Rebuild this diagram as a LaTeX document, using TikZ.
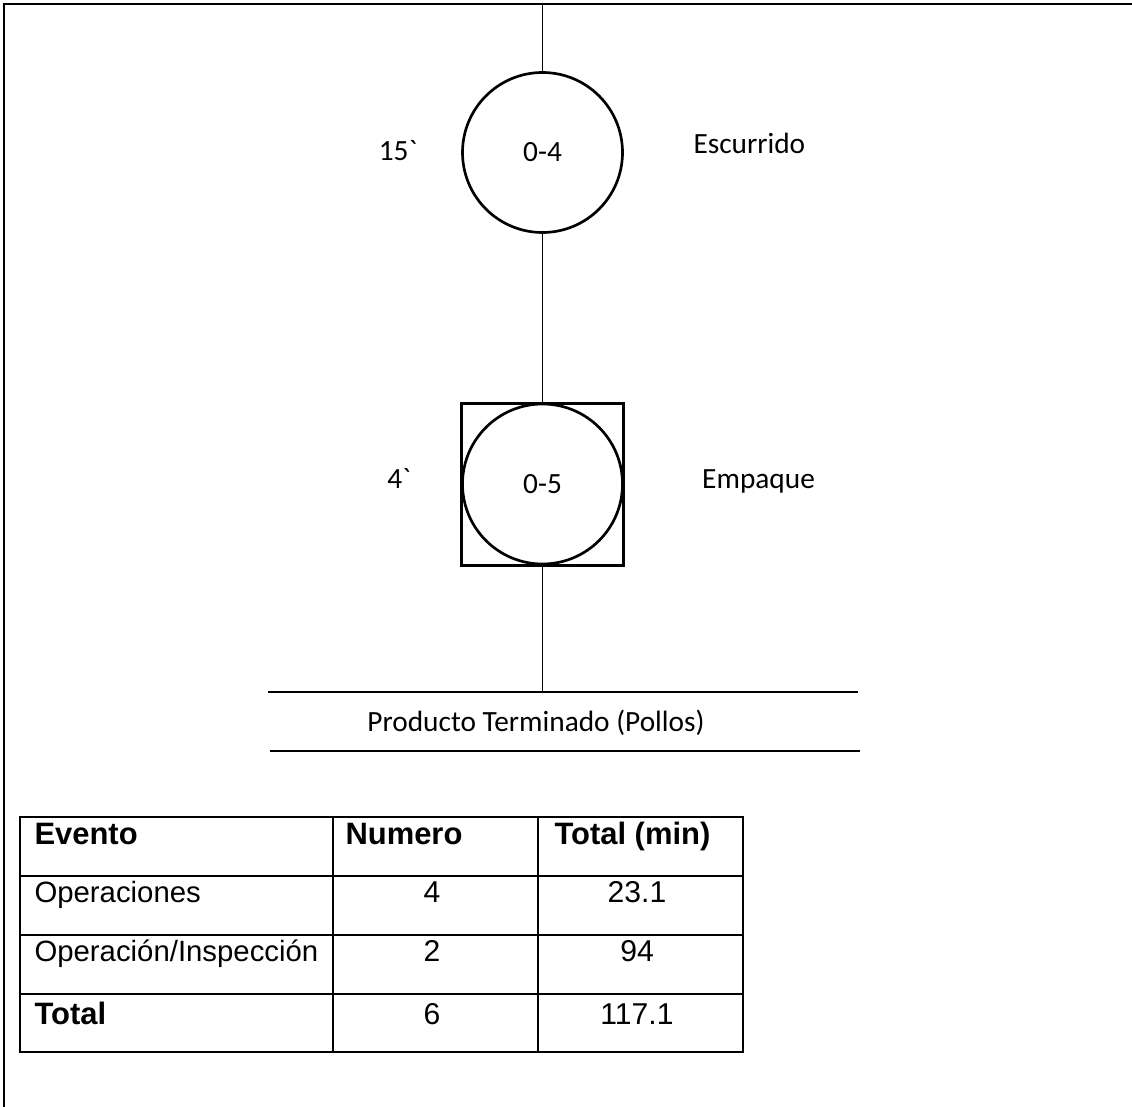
\documentclass[tikz,border=0pt]{standalone}
\usepackage{fontspec}
\setmainfont{Carlito}[Ligatures=TeXOff]
\newfontfamily\tabfont{Liberation Sans}

\begin{document}
\begin{tikzpicture}[x=.375pt,y=-.375pt,font=\fontsize{11}{13}\selectfont,
  opcirc/.style={circle,draw,line width=1pt,inner sep=0,minimum size=60pt},
  insbox/.style={rectangle,draw,line width=1pt,inner sep=0,minimum size=60.75pt},
  lbl/.style={anchor=base,inner sep=0},
  conn/.style={line width=.4pt},
  grid/.style={line width=.75pt},
  cell/.style={font=\tabfont\fontsize{11}{13}\selectfont,anchor=base west,inner sep=0},
  head/.style={cell,font=\tabfont\bfseries\fontsize{11.6}{14}\selectfont},
  num/.style={font=\tabfont\fontsize{11.3}{13}\selectfont,anchor=base,inner sep=0}]
\useasboundingbox (0,0) rectangle (1132,1107);
% page frame
\draw[line width=.75pt] (4,1107)--(4,4)--(1132,4);
\coordinate (start) at (542.5,4);
\node[opcirc] (op4) at (542.5,152.5) {0-4};
\node[lbl] (t4) at (398,160.5) {15\char"60};
\node[lbl,anchor=base west] (d4) at (693,154) {Escurrido};
\node[insbox] (ins5) at (542.5,484.5) {};
\node[opcirc] (op5) at (542.5,484) {0-5};
\node[lbl] (t5) at (399,488) {4\char"60};
\node[lbl,anchor=base west] (d5) at (701.7,489) {Empaque};
\coordinate (end) at (542.5,692);
\draw[conn] (start)--(op4);
\draw[conn] (op4)--(ins5);
\draw[conn] (ins5)--(end);
% product bar
\draw[conn] (268,692)--(858,692);
\draw[conn] (270,751)--(860,751);
\node[lbl] (prod) at (536,731.7) {Producto Terminado (Pollos)};
% summary table
\draw[grid] (20,817) rectangle (742.7,1052.3);
\draw[grid] (332.7,817)--(332.7,1052.3) (537.7,817)--(537.7,1052.3);
\draw[grid] (20,876)--(742.7,876) (20,935)--(742.7,935) (20,994)--(742.7,994);
\node[head] (h1) at (34,844.5) {Evento};
\node[head] (h2) at (345,844.5) {Numero};
\node[head] (h3) at (554,844.5) {Total (min)};
\node[cell] (r1) at (34,902) {Operaciones};
\node[num] (n1) at (432,902) {4};
\node[num] (m1) at (637,902) {23.1};
\node[cell] (r2) at (34,961) {Operación/Inspección};
\node[num] (n2) at (432,961) {2};
\node[num] (m2) at (637,961) {94};
\node[head] (r3) at (34,1024) {Total};
\node[num] (n3) at (432,1024) {6};
\node[num] (m3) at (637,1024) {117.1};
\end{tikzpicture}
\end{document}
